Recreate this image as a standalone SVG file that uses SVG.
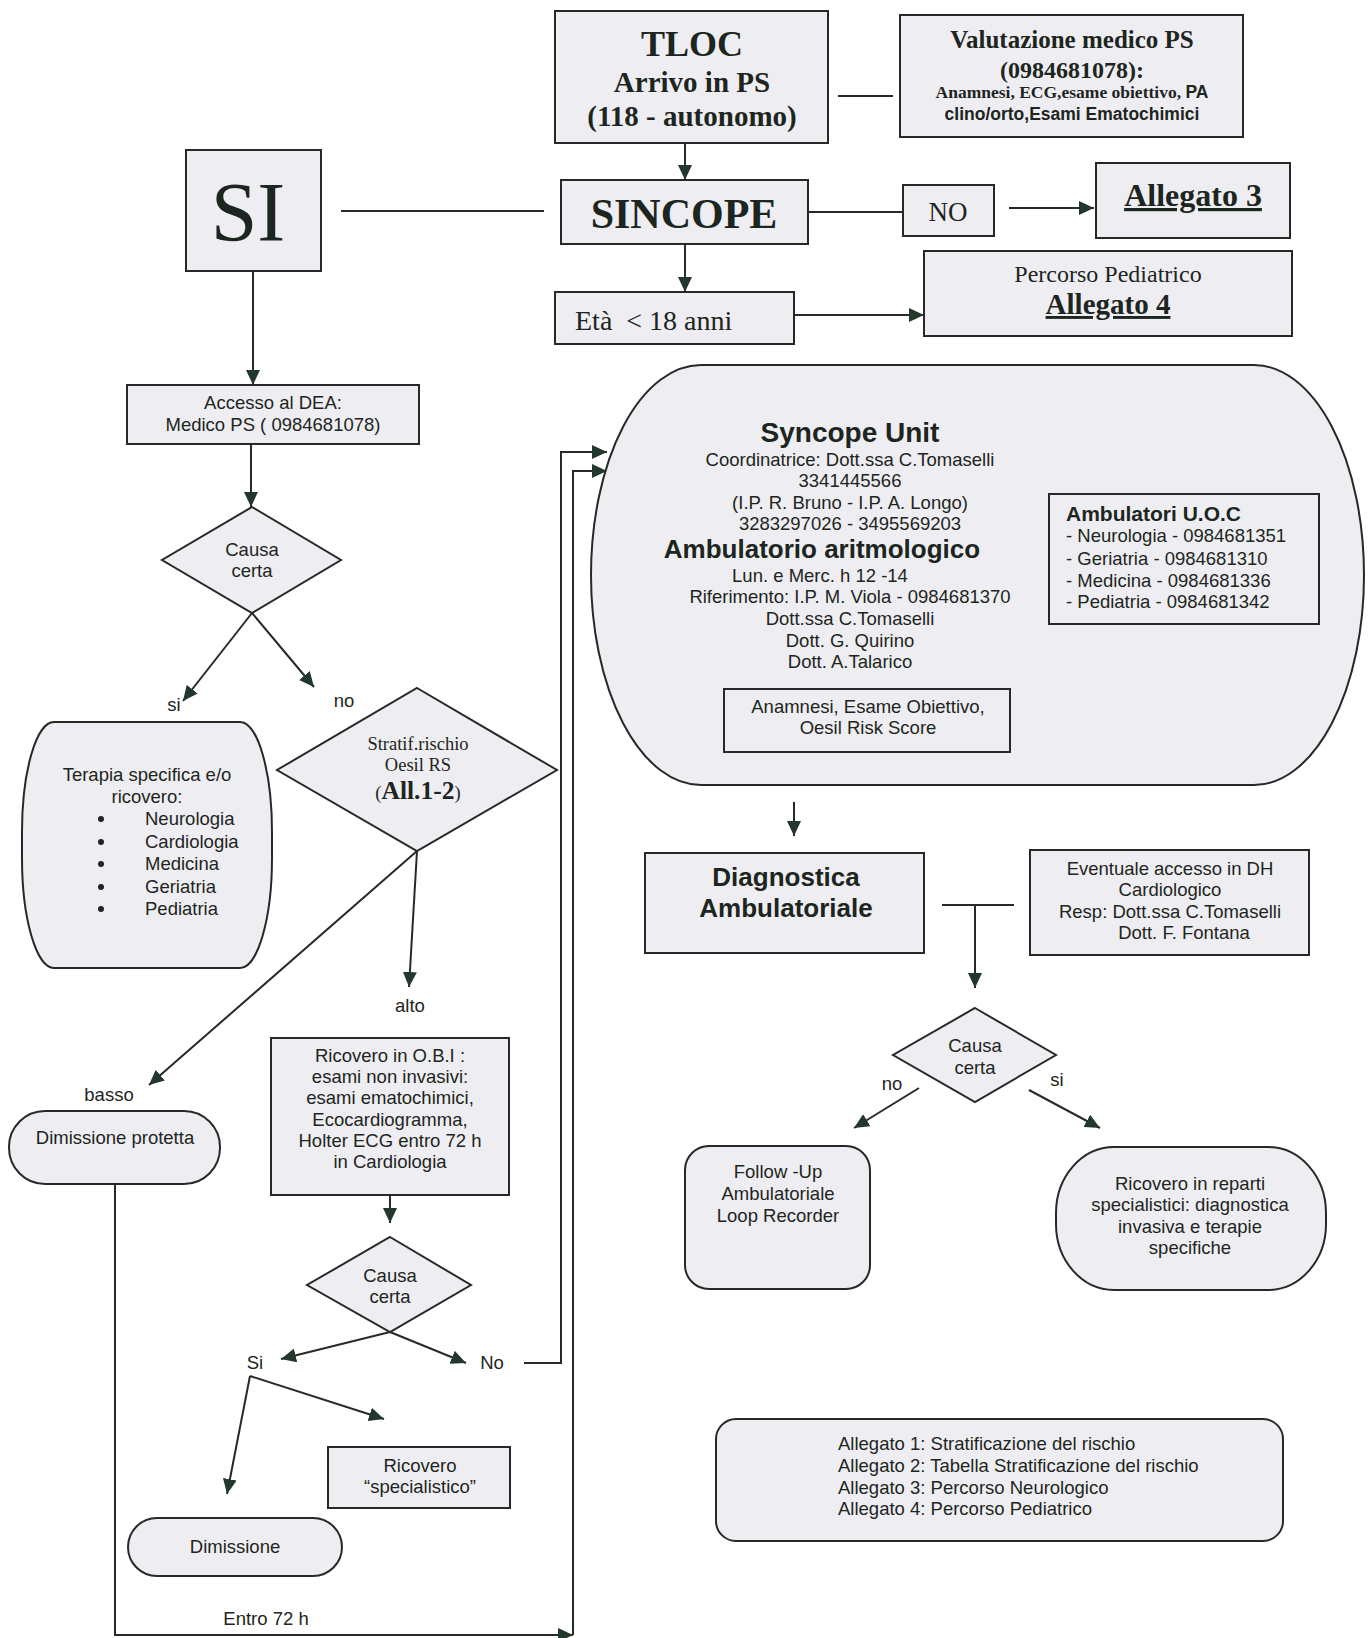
<svg xmlns="http://www.w3.org/2000/svg" width="1370" height="1638" viewBox="0 0 1370 1638">
<defs>
<marker id="ah" markerUnits="userSpaceOnUse" markerWidth="16" markerHeight="14" refX="15" refY="7" orient="auto">
<path d="M0,0 L15,7 L0,14 z" fill="#22382d"/>
</marker>
<style>
.box{fill:#eeeef2;stroke:#262926;stroke-width:2}
.ln{fill:none;stroke:#262b28;stroke-width:2}
.sa{font-family:"Liberation Sans",Arial,sans-serif;font-size:18.5px;fill:#1d2520}
.se{font-family:"Liberation Serif","Times New Roman",serif;fill:#1d2520}
.b{font-weight:bold}
.m{text-anchor:middle}
.u{text-decoration:underline}
</style>
</defs>
<rect width="1370" height="1638" fill="#ffffff"/>

<g id="connectors">
<path class="ln" d="M685,143 V180" marker-end="url(#ah)"/>
<path class="ln" d="M838,96 H893"/>
<path class="ln" d="M341,211 H544"/>
<path class="ln" d="M808,212 H903"/>
<path class="ln" d="M1009,208 H1094" marker-end="url(#ah)"/>
<path class="ln" d="M685,244 V292" marker-end="url(#ah)"/>
<path class="ln" d="M794,315 H924" marker-end="url(#ah)"/>
<path class="ln" d="M253,271 V385" marker-end="url(#ah)"/>
<path class="ln" d="M251,444 V507" marker-end="url(#ah)"/>
<path class="ln" d="M252,613 L183,701" marker-end="url(#ah)"/>
<path class="ln" d="M252,613 L314,687" marker-end="url(#ah)"/>
<path class="ln" d="M417,851 L409,987" marker-end="url(#ah)"/>
<path class="ln" d="M417,851 L149,1085" marker-end="url(#ah)"/>
<path class="ln" d="M390,1195 V1223" marker-end="url(#ah)"/>
<path class="ln" d="M390,1332 L281,1359" marker-end="url(#ah)"/>
<path class="ln" d="M390,1332 L466,1363" marker-end="url(#ah)"/>
<path class="ln" d="M250,1376 L227,1494" marker-end="url(#ah)"/>
<path class="ln" d="M250,1376 L384,1419" marker-end="url(#ah)"/>
<path class="ln" d="M524,1363 H561 V452 H607" marker-end="url(#ah)"/>
<path class="ln" d="M115,1184 V1635 H573" marker-end="url(#ah)"/>
<path class="ln" d="M573,1635 V471 H607" marker-end="url(#ah)"/>
<path class="ln" d="M794,802 V836" marker-end="url(#ah)"/>
<path class="ln" d="M942,905 H1014"/>
<path class="ln" d="M975,905 V988" marker-end="url(#ah)"/>
<path class="ln" d="M919,1088 L854,1128" marker-end="url(#ah)"/>
<path class="ln" d="M1029,1090 L1100,1128" marker-end="url(#ah)"/>
<path class="ln" d="M991,552 H1037" marker-end="url(#ah)"/>
<path class="ln" d="M1034,576 H988" marker-end="url(#ah)"/>
</g>

<g id="tloc">
<rect class="box" x="555" y="11" width="273" height="132"/>
<text class="se b m" x="692" y="56" font-size="36">TLOC</text>
<text class="se b m" x="692" y="92" font-size="29">Arrivo in PS</text>
<text class="se b m" x="692" y="126" font-size="29">(118 - autonomo)</text>
</g>

<g id="valutazione">
<rect class="box" x="900" y="15" width="343" height="122"/>
<text class="se b m" x="1072" y="48" font-size="25">Valutazione medico PS</text>
<text class="se b m" x="1072" y="78" font-size="24">(0984681078):</text>
<text class="se b m" x="1072" y="98" font-size="17.5">Anamnesi, ECG,esame obiettivo, <tspan font-family="Liberation Sans, Arial, sans-serif">PA</tspan></text>
<text class="sa b m" x="1072" y="120" style="font-size:17.5px">clino/orto,Esami Ematochimici</text>
</g>

<g id="si">
<rect class="box" x="186" y="150" width="135" height="121"/>
<text class="se m" x="248" y="241" font-size="84">SI</text>
</g>

<g id="sincope">
<rect class="box" x="561" y="180" width="247" height="64"/>
<text class="se b m" x="684" y="228" font-size="42">SINCOPE</text>
</g>

<g id="no">
<rect class="box" x="903" y="185" width="91" height="51"/>
<text class="se m" x="948" y="221" font-size="27">NO</text>
</g>

<g id="allegato3">
<rect class="box" x="1096" y="163" width="194" height="75"/>
<text class="se b m u" x="1193" y="206" font-size="32">Allegato 3</text>
</g>

<g id="eta">
<rect class="box" x="555" y="292" width="239" height="52"/>
<text class="se" x="575" y="330" font-size="28" xml:space="preserve">Età  &lt; 18 anni</text>
</g>

<g id="percorso">
<rect class="box" x="924" y="251" width="368" height="85"/>
<text class="se m" x="1108" y="282" font-size="24">Percorso Pediatrico</text>
<text class="se b m u" x="1108" y="314" font-size="29">Allegato 4</text>
</g>

<g id="accesso">
<rect class="box" x="127" y="385" width="292" height="59"/>
<text class="sa m" x="273" y="409">Accesso al DEA:</text>
<text class="sa m" x="273" y="431">Medico PS ( 0984681078)</text>
</g>

<g id="causa1">
<polygon class="box" points="252,507 341,560 252,613 162,560"/>
<text class="sa m" x="252" y="556">Causa</text>
<text class="sa m" x="252" y="577">certa</text>
</g>

<g id="labels-left">
<text class="sa m" x="174" y="711">si</text>
<text class="sa m" x="344" y="707">no</text>
<text class="sa m" x="410" y="1012">alto</text>
<text class="sa m" x="109" y="1101">basso</text>
<text class="sa m" x="255" y="1369">Si</text>
<text class="sa m" x="492" y="1369">No</text>
<text class="sa m" x="266" y="1625">Entro 72 h</text>
</g>

<g id="terapia">
<rect class="box" x="22" y="722" width="250" height="246" rx="32" ry="110"/>
<text class="sa m" x="147" y="781">Terapia specifica e/o</text>
<text class="sa m" x="147" y="803">ricovero:</text>
<g fill="#1d2520">
<circle cx="101" cy="819" r="3"/><circle cx="101" cy="842" r="3"/><circle cx="101" cy="864" r="3"/><circle cx="101" cy="887" r="3"/><circle cx="101" cy="909" r="3"/>
</g>
<text class="sa" x="145" y="825">Neurologia</text>
<text class="sa" x="145" y="848">Cardiologia</text>
<text class="sa" x="145" y="870">Medicina</text>
<text class="sa" x="145" y="893">Geriatria</text>
<text class="sa" x="145" y="915">Pediatria</text>
</g>

<g id="stratif">
<polygon class="box" points="417,688 557,770 417,851 277,770"/>
<text class="se m" x="418" y="750" font-size="18.5">Stratif.rischio</text>
<text class="se m" x="418" y="771" font-size="18.5">Oesil RS</text>
<text class="se m" x="418" y="799" font-size="18.5">(<tspan font-weight="bold" font-size="25.5">All.1-2</tspan>)</text>
</g>

<g id="dimissione-protetta">
<rect class="box" x="9" y="1111" width="211" height="73" rx="36" ry="36"/>
<text class="sa m" x="115" y="1144">Dimissione protetta</text>
</g>

<g id="obi">
<rect class="box" x="271" y="1038" width="238" height="157"/>
<text class="sa m" x="390" y="1062">Ricovero in O.B.I :</text>
<text class="sa m" x="390" y="1083">esami non invasivi:</text>
<text class="sa m" x="390" y="1104">esami ematochimici,</text>
<text class="sa m" x="390" y="1126">Ecocardiogramma,</text>
<text class="sa m" x="390" y="1147">Holter ECG entro 72 h</text>
<text class="sa m" x="390" y="1168">in Cardiologia</text>
</g>

<g id="causa2">
<polygon class="box" points="390,1237 471,1285 390,1332 307,1285"/>
<text class="sa m" x="390" y="1282">Causa</text>
<text class="sa m" x="390" y="1303">certa</text>
</g>

<g id="ricovero-specialistico">
<rect class="box" x="328" y="1447" width="182" height="61"/>
<text class="sa m" x="420" y="1472">Ricovero</text>
<text class="sa m" x="420" y="1493">“specialistico”</text>
</g>

<g id="dimissione">
<rect class="box" x="128" y="1518" width="214" height="58" rx="29" ry="29"/>
<text class="sa m" x="235" y="1553">Dimissione</text>
</g>

<g id="syncope-unit">
<rect class="box" x="591" y="365" width="773" height="420" rx="110" ry="210"/>
<text class="sa b m" x="850" y="442" style="font-size:28px">Syncope Unit</text>
<text class="sa m" x="850" y="466">Coordinatrice: Dott.ssa C.Tomaselli</text>
<text class="sa m" x="850" y="487">3341445566</text>
<text class="sa m" x="850" y="509">(I.P. R. Bruno - I.P. A. Longo)</text>
<text class="sa m" x="850" y="530">3283297026 - 3495569203</text>
<text class="sa b m" x="822" y="558" style="font-size:26px">Ambulatorio aritmologico</text>
<text class="sa m" x="820" y="582">Lun. e Merc. h 12 -14</text>
<text class="sa m" x="850" y="603">Riferimento: I.P. M. Viola - 0984681370</text>
<text class="sa m" x="850" y="625">Dott.ssa C.Tomaselli</text>
<text class="sa m" x="850" y="647">Dott. G. Quirino</text>
<text class="sa m" x="850" y="668">Dott. A.Talarico</text>
</g>

<g id="anamnesi">
<rect class="box" x="724" y="689" width="286" height="63"/>
<text class="sa m" x="868" y="713">Anamnesi, Esame Obiettivo,</text>
<text class="sa m" x="868" y="734">Oesil Risk Score</text>
</g>

<g id="ambulatori">
<rect class="box" x="1049" y="494" width="270" height="130"/>
<text class="sa b" x="1066" y="521" style="font-size:21px">Ambulatori U.O.C</text>
<text class="sa" x="1066" y="542">- Neurologia - 0984681351</text>
<text class="sa" x="1066" y="565">- Geriatria - 0984681310</text>
<text class="sa" x="1066" y="587">- Medicina - 0984681336</text>
<text class="sa" x="1066" y="608">- Pediatria - 0984681342</text>
</g>

<g id="diagnostica">
<rect class="box" x="645" y="853" width="279" height="100"/>
<text class="sa b m" x="786" y="886" style="font-size:26px">Diagnostica</text>
<text class="sa b m" x="786" y="917" style="font-size:26px">Ambulatoriale</text>
</g>

<g id="eventuale">
<rect class="box" x="1030" y="850" width="279" height="105"/>
<text class="sa m" x="1170" y="875">Eventuale accesso in DH</text>
<text class="sa m" x="1170" y="896">Cardiologico</text>
<text class="sa m" x="1170" y="918">Resp: Dott.ssa C.Tomaselli</text>
<text class="sa m" x="1184" y="939">Dott. F. Fontana</text>
</g>

<g id="causa3">
<polygon class="box" points="975,1008 1056,1055 975,1102 893,1055"/>
<text class="sa m" x="975" y="1052">Causa</text>
<text class="sa m" x="975" y="1074">certa</text>
<text class="sa m" x="892" y="1090">no</text>
<text class="sa m" x="1057" y="1086">si</text>
</g>

<g id="follow-up">
<rect class="box" x="685" y="1146" width="185" height="143" rx="24" ry="24"/>
<text class="sa m" x="778" y="1178">Follow -Up</text>
<text class="sa m" x="778" y="1200">Ambulatoriale</text>
<text class="sa m" x="778" y="1222">Loop Recorder</text>
</g>

<g id="ricovero-reparti">
<rect class="box" x="1056" y="1147" width="270" height="143" rx="58" ry="66"/>
<text class="sa m" x="1190" y="1190">Ricovero in reparti</text>
<text class="sa m" x="1190" y="1211">specialistici: diagnostica</text>
<text class="sa m" x="1190" y="1233">invasiva e terapie</text>
<text class="sa m" x="1190" y="1254">specifiche</text>
</g>

<g id="allegati">
<rect class="box" x="716" y="1419" width="567" height="122" rx="20" ry="20"/>
<text class="sa" x="838" y="1450">Allegato 1: Stratificazione del rischio</text>
<text class="sa" x="838" y="1472">Allegato 2: Tabella Stratificazione del rischio</text>
<text class="sa" x="838" y="1494">Allegato 3: Percorso Neurologico</text>
<text class="sa" x="838" y="1515">Allegato 4: Percorso Pediatrico</text>
</g>
</svg>
